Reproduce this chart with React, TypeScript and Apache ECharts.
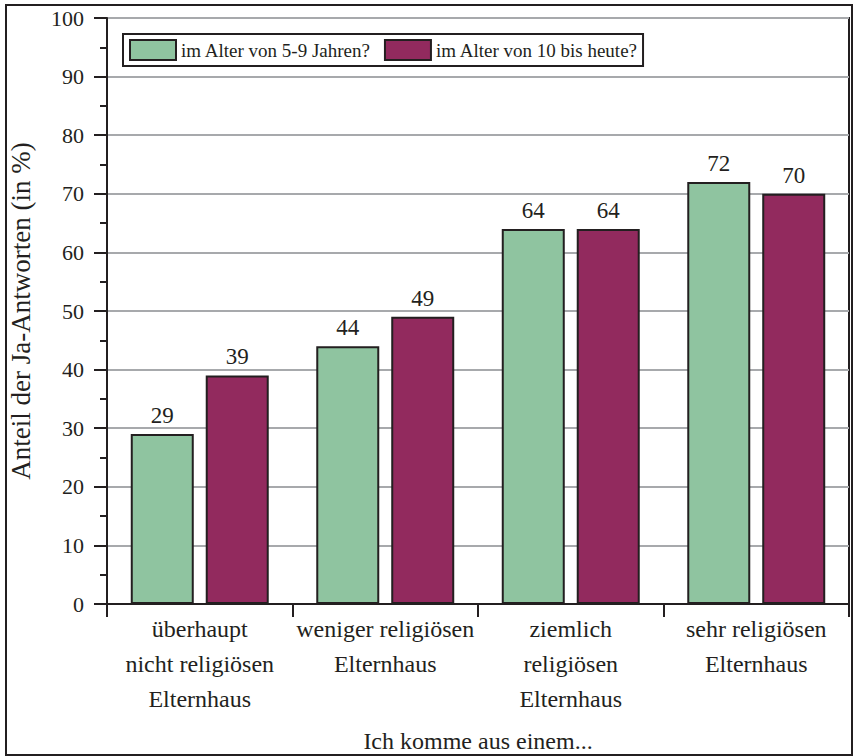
import React, { useEffect, useRef } from "react";
import * as echarts from "echarts";

const categories = [
  "überhaupt\nnicht religiösen\nElternhaus",
  "weniger religiösen\nElternhaus",
  "ziemlich\nreligiösen\nElternhaus",
  "sehr religiösen\nElternhaus",
];
const seriesNames = ["im Alter von 5-9 Jahren?", "im Alter von 10 bis heute?"];
const young = [29, 44, 64, 72];
const older = [39, 49, 64, 70];
const yAxisName = "Anteil der Ja-Antworten (in %)";
const xAxisName = "Ich komme aus einem...";

const FONT = "'Liberation Serif', 'DejaVu Serif', serif";
const TXT = "#231f20";

export default function App() {
  const ref = useRef<HTMLDivElement>(null);
  useEffect(() => {
    if (!ref.current) return;
    const chart = echarts.init(ref.current, null, { renderer: "svg" });
    const barStyle = (color: string) => ({
      color,
      borderColor: "#231f20",
      borderWidth: 2,
    });
    const label = {
      show: true,
      position: "top" as const,
      distance: 7,
      fontFamily: FONT,
      fontSize: 23,
      color: TXT,
    };
    chart.setOption({
      animation: false,
      textStyle: { fontFamily: FONT, color: TXT },
      grid: {
        left: 107,
        right: 5,
        top: 18,
        bottom: 152,
        outerBoundsMode: "none",
        containLabel: false,
        show: true,
        borderColor: "#231f20",
        borderWidth: 2,
        backgroundColor: "transparent",
      },
      legend: {
        left: 123,
        top: 34,
        orient: "horizontal",
        icon: "rect",
        itemWidth: 46,
        itemHeight: 20,
        itemGap: 13,
        padding: [5, 5, 5, 6],
        borderColor: "#231f20",
        borderWidth: 2,
        textStyle: { fontFamily: FONT, fontSize: 19, color: TXT },
        data: seriesNames,
      },
      xAxis: {
        type: "category",
        data: categories,
        name: xAxisName,
        nameLocation: "middle",
        nameGap: 125,
        nameTextStyle: { fontFamily: FONT, fontSize: 24, color: TXT },
        axisLine: { show: true, lineStyle: { color: "#231f20", width: 2 } },
        axisTick: {
          show: true,
          alignWithLabel: false,
          inside: false,
          length: 13,
          lineStyle: { color: "#231f20", width: 2 },
        },
        axisLabel: {
          fontFamily: FONT,
          fontSize: 24,
          lineHeight: 35,
          color: TXT,
          margin: 7,
          interval: 0,
        },
        splitLine: { show: false },
      },
      yAxis: {
        type: "value",
        min: 0,
        max: 100,
        interval: 10,
        name: yAxisName,
        nameLocation: "middle",
        nameGap: 73,
        nameTextStyle: { fontFamily: FONT, fontSize: 27, color: TXT },
        axisLine: { show: true, lineStyle: { color: "#231f20", width: 2 } },
        axisTick: {
          show: true,
          inside: false,
          length: 13,
          lineStyle: { color: "#231f20", width: 2 },
        },
        minorTick: {
          show: true,
          splitNumber: 2,
          length: 7,
          lineStyle: { color: "#231f20", width: 2 },
        },
        axisLabel: {
          fontFamily: FONT,
          fontSize: 22,
          color: TXT,
          margin: 23,
        },
        splitLine: { show: true, lineStyle: { color: "#a7a9ac", width: 2 } },
      },
      graphic: [
        {
          type: "rect",
          shape: { x: 6, y: 5, width: 846, height: 750 },
          style: { fill: "none", stroke: "#231f20", lineWidth: 2 },
          silent: true,
          z: 100,
        },
      ],
      series: [
        {
          name: seriesNames[0],
          type: "bar",
          data: young,
          barWidth: 63,
          barGap: "19%",
          itemStyle: barStyle("#8fc4a0"),
          label,
        },
        {
          name: seriesNames[1],
          type: "bar",
          data: older,
          barWidth: 63,
          barGap: "19%",
          itemStyle: barStyle("#922a5e"),
          label,
        },
      ],
    });
    return () => chart.dispose();
  }, []);
  return (
    <div
      ref={ref}
      style={{ position: "absolute", left: 0, top: 0, width: 854, height: 756 }}
    />
  );
}
